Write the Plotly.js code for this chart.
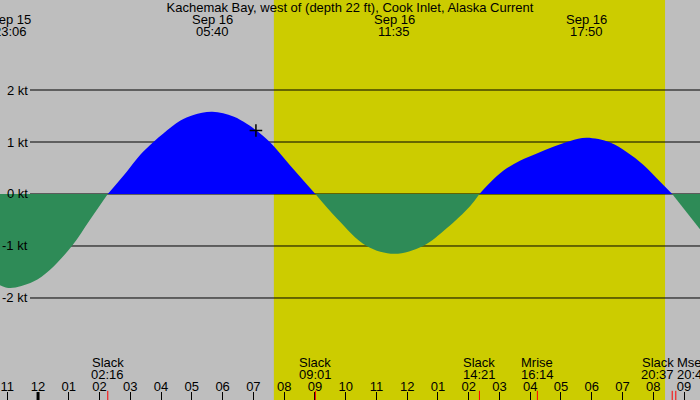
<!DOCTYPE html>
<html>
<head>
<meta charset="utf-8">
<script src="https://cdn.plot.ly/plotly-3.0.1.min.js"></script>
<style>
  body { margin: 0; background: #bebebe; }
  #graph { width: 700px; height: 400px; }
</style>
</head>
<body>
<div id="graph"></div>
<script>
// current speed, knots (+ flood, - ebb)
var stationTitle = "Kachemak Bay, west of (depth 22 ft), Cook Inlet, Alaska Current";
var times = ["2024-09-15 22:45", "2024-09-15 23:06", "2024-09-15 23:50", "2024-09-16 00:23",
  "2024-09-16 01:06", "2024-09-16 01:41", "2024-09-16 02:16", "2024-09-16 02:53",
  "2024-09-16 03:19", "2024-09-16 03:45", "2024-09-16 04:05", "2024-09-16 04:37",
  "2024-09-16 05:03", "2024-09-16 05:40", "2024-09-16 06:21", "2024-09-16 06:47",
  "2024-09-16 07:06", "2024-09-16 07:32", "2024-09-16 08:11", "2024-09-16 09:01",
  "2024-09-16 09:43", "2024-09-16 10:41", "2024-09-16 11:35", "2024-09-16 12:31",
  "2024-09-16 13:17", "2024-09-16 14:03", "2024-09-16 14:21", "2024-09-16 14:41",
  "2024-09-16 15:08", "2024-09-16 15:40", "2024-09-16 16:13", "2024-09-16 16:45",
  "2024-09-16 17:18", "2024-09-16 17:50", "2024-09-16 18:36", "2024-09-16 19:08",
  "2024-09-16 19:41", "2024-09-16 20:13", "2024-09-16 20:37", "2024-09-16 21:32"];
var speeds = [-1.75, -1.81, -1.69, -1.46,
  -1.00, -0.50, 0, 0.43,
  0.75, 1.00, 1.17, 1.41,
  1.52, 1.58, 1.49, 1.35,
  1.22, 1.00, 0.56, 0,
  -0.47, -1.00, -1.15, -1.00,
  -0.66, -0.23, 0, 0.21,
  0.45, 0.64, 0.78, 0.91,
  1.02, 1.08, 0.99, 0.81,
  0.56, 0.24, 0, -0.69];

var ktTicks = [2, 1, 0, -1, -2];

// max flood / ebb labels along the top
var peakTimes = ["2024-09-15 23:06", "2024-09-16 05:40", "2024-09-16 11:35", "2024-09-16 17:50"];
var peakDays = ["Sep 15", "Sep 16", "Sep 16", "Sep 16"];
var peakClock = ["23:06", "05:40", "11:35", "17:50"];

// slack / moon events along the bottom
var eventTimes = ["2024-09-16 02:16", "2024-09-16 09:01", "2024-09-16 14:21",
  "2024-09-16 16:14", "2024-09-16 20:37", "2024-09-16 20:44"];
var eventNames = ["Slack", "Slack", "Slack", "Mrise", "Slack", "Mset"];
var eventClock = ["02:16", "09:01", "14:21", "16:14", "20:37", "20:44"];

var sunrise = "2024-09-16 07:40";
var sunset = "2024-09-16 20:23";
var midnight = "2024-09-16 00:00";
var nowTime = ["2024-09-16 07:05"];
var nowSpeed = [1.22];

var xStart = "2024-09-15 22:45:47";
var xEnd = "2024-09-16 21:31:12";

var FONT = "Liberation Sans, Arial, sans-serif";

// split the curve into flood / ebb lobes at the slack points
function splitLobes(){
  var lobes = [];
  var cur = {x: [], y: []};
  for (var i = 0; i < times.length; i++){
    cur.x.push(times[i]);
    cur.y.push(speeds[i]);
    if (speeds[i] == 0 && cur.x.length > 1){
      lobes.push(cur);
      cur = {x: [times[i]], y: [0]};
    }
  }
  if (cur.x.length > 1) lobes.push(cur);
  return lobes;
}

var data = [];
splitLobes().forEach(function(l){
  var big = l.y.reduce(function(a, b){ return Math.abs(b) > Math.abs(a) ? b : a; }, 0);
  data.push({
    x: l.x, y: l.y, mode: "lines", fill: "tozeroy",
    line: {width: 0, shape: "spline", smoothing: 1},
    fillcolor: big > 0 ? "#0000ff" : "#2e8b57",
    hoverinfo: "skip"
  });
});
data.push({
  x: nowTime, y: nowSpeed, mode: "markers",
  marker: {symbol: "cross-thin", size: 9, line: {width: 1.5, color: "black"}},
  hoverinfo: "skip"
});

var shapes = [{
  type: "rect", xref: "x", yref: "paper", x0: sunrise, x1: sunset, y0: 0, y1: 1,
  fillcolor: "#cccc00", line: {width: 0}, layer: "below"
}];
ktTicks.forEach(function(k){
  shapes.push({
    type: "line", xref: "paper", yref: "y", x0: 30 / 700, x1: 1, y0: k, y1: k,
    line: {color: "black", width: 1}, layer: "below"
  });
});
shapes.push({
  type: "line", xref: "x", yref: "paper", x0: midnight, x1: midnight, y0: 0, y1: 0.02,
  line: {color: "black", width: 3}
});
eventTimes.forEach(function(t){
  shapes.push({
    type: "line", xref: "x", yref: "paper", x0: t, x1: t, y0: 0, y1: 0.023,
    line: {color: "red", width: 1}
  });
});

function label(xref, x, yPx, text, anchor, shift){
  return {
    xref: xref, yref: "paper", x: x, y: 1 - yPx / 400,
    xanchor: anchor || "center", yanchor: "middle", xshift: shift || 0,
    text: text, showarrow: false, borderpad: 0,
    font: {family: FONT, size: 13, color: "black"}
  };
}

var annotations = [];
ktTicks.forEach(function(k){
  annotations.push({
    xref: "paper", yref: "y", x: 29 / 700, y: k, xanchor: "right", yanchor: "middle",
    text: k + " kt", showarrow: false, borderpad: 0,
    font: {family: FONT, size: 13, color: "black"}
  });
});
peakTimes.forEach(function(t, i){
  annotations.push(label("x", t, 19.5, peakDays[i]));
  annotations.push(label("x", t, 31.5, peakClock[i]));
});
eventTimes.forEach(function(t, i){
  var anchor = "center", shift = 0;
  if (i == eventTimes.length - 2){ anchor = "right"; shift = 3; }
  if (i == eventTimes.length - 1){ anchor = "left"; shift = 0; }
  annotations.push(label("x", t, 362, eventNames[i], anchor, shift));
  annotations.push(label("x", t, 374, eventClock[i], anchor, shift));
});

var layout = {
  width: 700, height: 400,
  margin: {t: 0, l: 0, r: 0, b: 0, pad: 0},
  paper_bgcolor: "#bebebe",
  plot_bgcolor: "#bebebe",
  showlegend: false,
  hovermode: false,
  title: {
    text: stationTitle, x: 0.5, xanchor: "center", y: 1 - 7.5 / 400, yanchor: "middle",
    font: {family: FONT, size: 13, color: "black"}
  },
  xaxis: {
    type: "date", range: [xStart, xEnd], autorange: false,
    tick0: "2024-09-16 00:00", dtick: 3600000, tickformat: "%I",
    ticks: "inside", ticklen: 8, tickwidth: 1, tickcolor: "black",
    ticklabelposition: "inside", ticklabeloverflow: "allow", ticklabelstandoff: -2,
    tickfont: {family: FONT, size: 13, color: "black"},
    showgrid: false, zeroline: false, showline: false, fixedrange: true
  },
  yaxis: {
    range: [-3.962, 3.731], autorange: false,
    showgrid: false, zeroline: false, showline: false, showticklabels: false,
    ticks: "", fixedrange: true
  },
  shapes: shapes,
  annotations: annotations
};

Plotly.newPlot("graph", data, layout, {staticPlot: true, displayModeBar: false});
</script>
</body>
</html>
